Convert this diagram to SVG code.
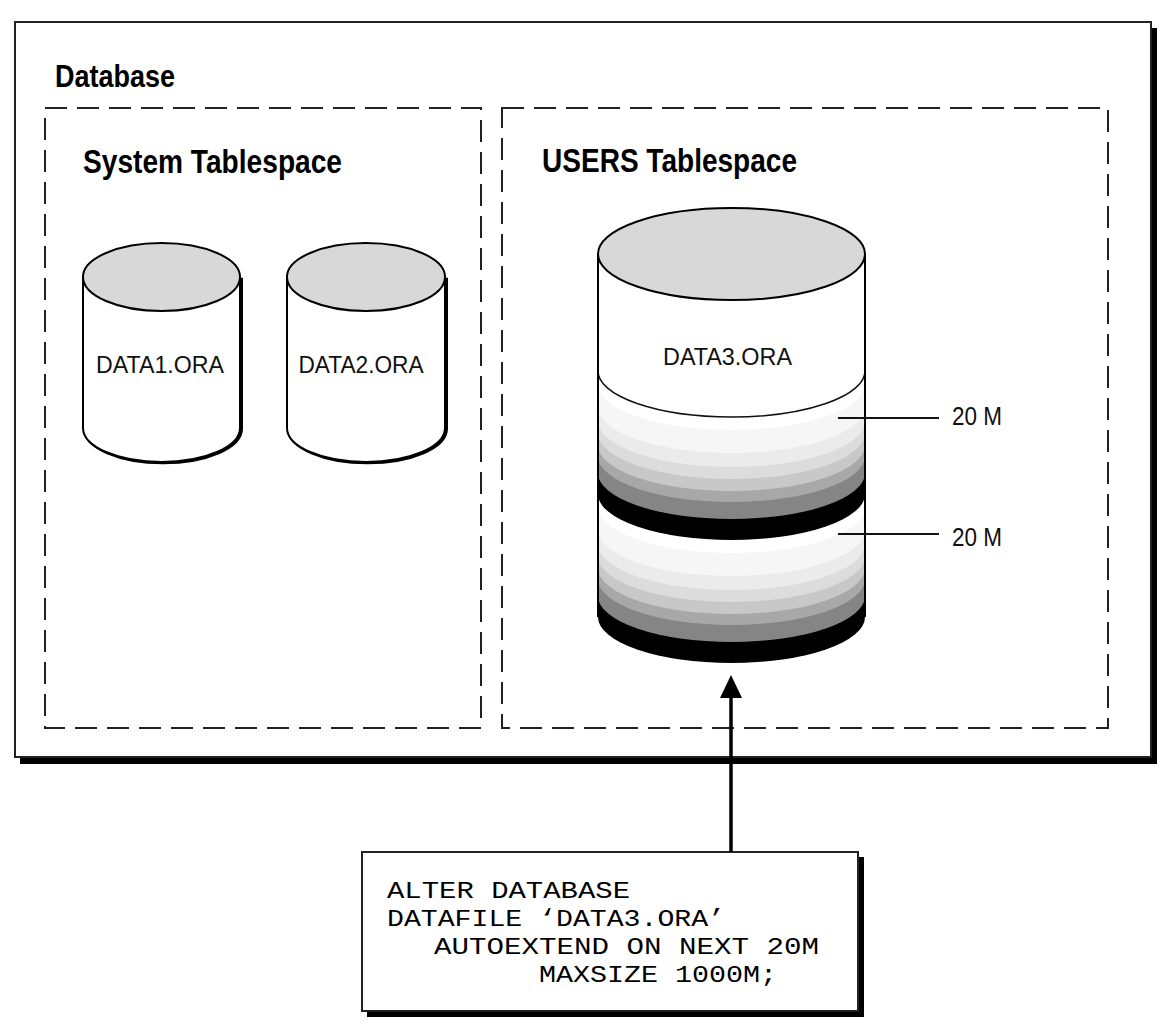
<svg xmlns="http://www.w3.org/2000/svg" width="1174" height="1036" viewBox="0 0 1174 1036">
<style>
.title{font-family:"Liberation Sans",Arial,sans-serif;font-weight:bold;fill:#000}
.lbl{font-family:"Liberation Sans",Arial,sans-serif;fill:#111}
.code{font-family:"Liberation Mono","Courier New",monospace;font-size:24px;fill:#000}
.dash{fill:none;stroke:#222;stroke-width:2;stroke-dasharray:22 10}
.edge{stroke:#000;stroke-width:2}
.top{fill:#d8d8d8;stroke:#000;stroke-width:2}
</style>
<rect width="1174" height="1036" fill="#fff"/>
<g id="database">
<rect x="20" y="28" width="1137" height="736" fill="#000"/>
<rect x="15" y="22" width="1136" height="735" fill="#fff" stroke="#222" stroke-width="2"/>
<text class="title" x="55" y="87" font-size="32" textLength="120" lengthAdjust="spacingAndGlyphs">Database</text>
</g>
<g id="system-tablespace">
<rect class="dash" x="45" y="108" width="436" height="620"/>
<text class="title" x="83" y="173" font-size="33" textLength="259" lengthAdjust="spacingAndGlyphs">System Tablespace</text>
</g>
<g id="users-tablespace">
<rect class="dash" x="502" y="108" width="606" height="620"/>
<text class="title" x="542" y="172" font-size="33" textLength="255" lengthAdjust="spacingAndGlyphs">USERS Tablespace</text>
</g>
<g id="data1">
<path d="M83,277 L83,428 A78.5 34 0 0 0 240,428 L240,277" fill="none" stroke="#000" stroke-width="3" transform="translate(1.5,0.8)"/>
<path d="M83,277 L83,428 A78.5 34 0 0 0 240,428 L240,277 Z" fill="#fff" class="edge"/>
<ellipse class="top" cx="161.5" cy="277" rx="78.5" ry="34"/>
<text class="lbl" x="160" y="373" font-size="24" text-anchor="middle" textLength="128" lengthAdjust="spacingAndGlyphs">DATA1.ORA</text>
</g>
<g id="data2">
<path d="M287,277 L287,428 A79 34 0 0 0 445,428 L445,277" fill="none" stroke="#000" stroke-width="3" transform="translate(1.5,0.8)"/>
<path d="M287,277 L287,428 A79 34 0 0 0 445,428 L445,277 Z" fill="#fff" class="edge"/>
<ellipse class="top" cx="366" cy="277" rx="79" ry="34"/>
<text class="lbl" x="361" y="373" font-size="24" text-anchor="middle" textLength="125" lengthAdjust="spacingAndGlyphs">DATA2.ORA</text>
</g>
<g id="data3">
<g id="extent2">
<path d="M598,494 L598,617 A133.5 46 0 0 0 865,617 L865,494 Z" fill="#000"/>
<path d="M598,494 L598,596 A133.5 46 0 0 0 865,596 L865,494 Z" fill="#858585"/>
<path d="M598,494 L598,579 A133.5 46 0 0 0 865,579 L865,494 Z" fill="#a8a8a8"/>
<path d="M598,494 L598,568 A133.5 46 0 0 0 865,568 L865,494 Z" fill="#c8c8c8"/>
<path d="M598,494 L598,556 A133.5 46 0 0 0 865,556 L865,494 Z" fill="#dcdcdc"/>
<path d="M598,494 L598,544 A133.5 46 0 0 0 865,544 L865,494 Z" fill="#ebebeb"/>
<path d="M598,494 L598,530 A133.5 46 0 0 0 865,530 L865,494 Z" fill="#f6f6f6"/>
<path d="M598,494 L598,507 A133.5 46 0 0 0 865,507 L865,494 Z" fill="#fff"/>
</g>
<g id="extent1">
<path d="M598,371 L598,494 A133.5 46 0 0 0 865,494 L865,371 Z" fill="#000"/>
<path d="M598,371 L598,473 A133.5 46 0 0 0 865,473 L865,371 Z" fill="#858585"/>
<path d="M598,371 L598,456 A133.5 46 0 0 0 865,456 L865,371 Z" fill="#a8a8a8"/>
<path d="M598,371 L598,445 A133.5 46 0 0 0 865,445 L865,371 Z" fill="#c8c8c8"/>
<path d="M598,371 L598,433 A133.5 46 0 0 0 865,433 L865,371 Z" fill="#dcdcdc"/>
<path d="M598,371 L598,421 A133.5 46 0 0 0 865,421 L865,371 Z" fill="#ebebeb"/>
<path d="M598,371 L598,407 A133.5 46 0 0 0 865,407 L865,371 Z" fill="#f6f6f6"/>
<path d="M598,371 L598,384 A133.5 46 0 0 0 865,384 L865,371 Z" fill="#fff"/>
</g>
<path d="M598,254 L598,371 A133.5 46 0 0 0 865,371 L865,254 Z" fill="#fff"/>
<path d="M598,371 A133.5 46 0 0 0 865,371" fill="none" stroke="#111" stroke-width="1.5"/>
<path d="M598,254 V617 M865,254 V617" class="edge" fill="none"/>
<ellipse class="top" cx="731.5" cy="254" rx="133.5" ry="46"/>
<text class="lbl" x="727.5" y="365" font-size="24" text-anchor="middle" textLength="129" lengthAdjust="spacingAndGlyphs">DATA3.ORA</text>
</g>
<g id="size-labels">
<text class="lbl" x="952" y="425" font-size="25" textLength="50" lengthAdjust="spacingAndGlyphs">20 M</text>
<text class="lbl" x="952" y="546" font-size="25" textLength="50" lengthAdjust="spacingAndGlyphs">20 M</text>
</g>
<g id="code-box">
<rect x="367" y="857" width="497" height="160" fill="#000"/>
<rect x="362" y="852" width="496" height="159" fill="#fff" stroke="#222" stroke-width="2"/>
<text class="code" x="387" y="898" textLength="243" lengthAdjust="spacingAndGlyphs">ALTER DATABASE</text>
<text class="code" x="387" y="926" textLength="338" lengthAdjust="spacingAndGlyphs">DATAFILE ‘DATA3.ORA’</text>
<text class="code" x="434" y="954" textLength="385" lengthAdjust="spacingAndGlyphs">AUTOEXTEND ON NEXT 20M</text>
<text class="code" x="539" y="982" textLength="238" lengthAdjust="spacingAndGlyphs">MAXSIZE 1000M;</text>
</g>
<g id="connectors">
<line x1="838" y1="418" x2="939" y2="418" stroke="#111" stroke-width="2"/>
<line x1="838" y1="534" x2="939" y2="534" stroke="#111" stroke-width="2"/>
<line x1="731" y1="852" x2="731" y2="695" stroke="#000" stroke-width="3.5"/>
<polygon points="731,675 720,698 742,698" fill="#000"/>
</g>
</svg>
